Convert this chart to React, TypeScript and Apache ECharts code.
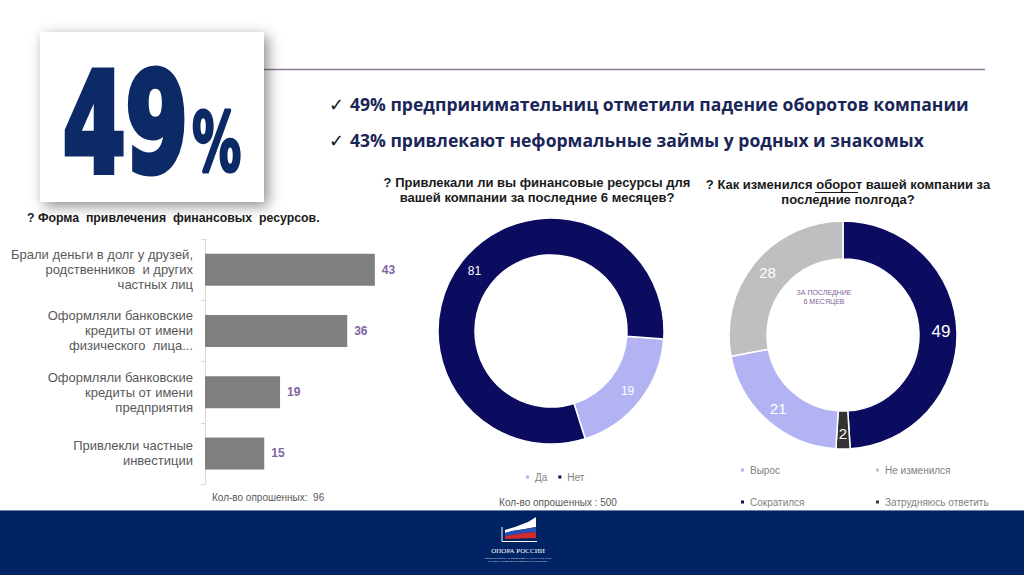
import React, { useEffect, useRef } from "react";
import * as echarts from "echarts";

const barCategories = [
  "Брали деньги в долг у друзей,\nродственников  и других\nчастных лиц",
  "Оформляли банковские\nкредиты от имени\nфизического  лица...",
  "Оформляли банковские\nкредиты от имени\nпредприятия",
  "Привлекли частные\nинвестиции",
];
const barValues = [43, 36, 19, 15];

const pie1Names = ["Да", "Нет"];
const pie1Values = [19, 81];
const pie1Colors = ["#b3b3f3", "#0b0b60"];

const pie2Names = ["Сократился", "Затрудняюсь ответить", "Вырос", "Не изменился"];
const pie2Values = [49, 2, 21, 28];
const pie2Colors = ["#0b0b60", "#333333", "#b3b3f3", "#bfbfbf"];

const bullets = [
  "49% предпринимательниц отметили падение оборотов компании",
  "43% привлекают неформальные займы у родных и знакомых",
];

const SANS = "Liberation Sans, Arial, sans-serif";
const NAVY = "#0c2a66";

export default function App() {
  const ref = useRef<HTMLDivElement>(null);
  useEffect(() => {
    if (!ref.current) return;
    const chart = echarts.init(ref.current, undefined, { renderer: "svg" });
    const legendText = { color: "#7f7f7f", fontSize: 10, fontFamily: SANS };
    const legendBase = {
      icon: "rect",
      itemWidth: 5,
      itemHeight: 5,
      itemGap: 9,
      padding: 0,
      selectedMode: false,
      textStyle: legendText,
    };
    const option: any = {
      animation: false,
      backgroundColor: "#ffffff",
      grid: { left: 205, top: 239, width: 197.5, height: 245, containLabel: false },
      xAxis: { type: "value", min: 0, max: 50, show: false },
      yAxis: {
        type: "category",
        data: barCategories,
        inverse: true,
        axisLine: { show: true, lineStyle: { color: "#d9d9d9", width: 1 } },
        axisTick: { show: true, length: 4, lineStyle: { color: "#d9d9d9" } },
        axisLabel: {
          color: "#595959",
          fontSize: 13,
          lineHeight: 15,
          fontFamily: SANS,
          margin: 12,
          align: "right",
        },
      },
      legend: [
        { ...legendBase, data: ["Да", "Нет"], left: 524, top: 472 },
        { ...legendBase, data: ["Вырос"], left: 739, top: 465 },
        { ...legendBase, data: ["Не изменился"], left: 874, top: 465 },
        { ...legendBase, data: ["Сократился"], left: 739, top: 497 },
        { ...legendBase, data: ["Затрудняюсь ответить"], left: 874, top: 497 },
      ],
      series: [
        {
          type: "bar",
          data: barValues,
          barWidth: 32,
          itemStyle: { color: "#7f7f7f" },
          label: {
            show: true,
            position: "right",
            distance: 7,
            color: "#8064a2",
            fontWeight: "bold",
            fontSize: 12,
            fontFamily: SANS,
          },
        },
        {
          type: "pie",
          center: [551, 331],
          radius: [76, 113],
          startAngle: -4,
          clockwise: true,
          label: {
            show: true,
            position: "inside",
            color: "#ffffff",
            fontSize: 12,
            fontFamily: SANS,
            formatter: "{c}",
          },
          labelLine: { show: false },
          itemStyle: { borderColor: "#ffffff", borderWidth: 1.5 },
          data: pie1Names.map((n, i) => ({
            name: n,
            value: pie1Values[i],
            itemStyle: { color: pie1Colors[i] },
          })),
        },
        {
          type: "pie",
          center: [843, 335],
          radius: [76, 114],
          startAngle: 90,
          clockwise: true,
          label: {
            show: true,
            position: "inside",
            color: "#ffffff",
            fontSize: 15,
            fontFamily: SANS,
            formatter: "{c}",
          },
          labelLine: { show: false },
          itemStyle: { borderColor: "#ffffff", borderWidth: 1.5 },
          data: pie2Names.map((n, i) => ({
            name: n,
            value: pie2Values[i],
            itemStyle: { color: pie2Colors[i] },
            label: pie2Values[i] === 49 ? { fontSize: 17 } : undefined,
          })),
        },
      ],
      graphic: [
        // big number box
        {
          type: "rect",
          shape: { x: 40, y: 32, width: 224, height: 170 },
          style: {
            fill: "#ffffff",
            shadowBlur: 14,
            shadowColor: "rgba(0,0,0,0.45)",
            shadowOffsetX: 4,
            shadowOffsetY: 4,
          },
          z: 1,
        },
        {
          type: "line",
          shape: { x1: 264, y1: 69.5, x2: 985, y2: 69.5 },
          style: { stroke: "#8e7b9e", lineWidth: 1.5 },
        },
        {
          type: "text",
          x: 63,
          y: 124,
          scaleX: 0.655,
          z: 3,
          style: {
            text: "49",
            x: 0,
            y: 0,
            fontSize: 137,
            fontWeight: "bold",
            fontFamily: "DejaVu Sans",
            fill: NAVY,
            stroke: NAVY,
            lineWidth: 7,
            align: "left",
            verticalAlign: "middle",
          },
        },
        {
          type: "text",
          x: 192,
          y: 143,
          scaleX: 0.6,
          z: 3,
          style: {
            text: "%",
            x: 0,
            y: 0,
            fontSize: 82,
            fontWeight: "bold",
            fontFamily: "DejaVu Sans",
            fill: NAVY,
            stroke: NAVY,
            lineWidth: 3,
            align: "left",
            verticalAlign: "middle",
          },
        },
        // bullets
        ...bullets.flatMap((b, i) => [
          {
            type: "text",
            x: 329,
            y: 104 + i * 36,
            style: {
              text: "✓",
              fontSize: 18,
              fontWeight: "bold",
              fontFamily: "DejaVu Sans",
              fill: "#111111",
              align: "left",
              verticalAlign: "middle",
            },
          },
          {
            type: "text",
            x: 350,
            y: 104 + i * 36,
            scaleX: 0.975,
            style: {
              text: b,
              fontSize: 18,
              fontWeight: "bold",
              fontFamily: "Open Sans, sans-serif",
              fill: "#1a2558",
              align: "left",
              verticalAlign: "middle",
            },
          },
        ]),
        // question titles
        {
          type: "text",
          x: 27,
          y: 218,
          style: {
            text: "? Форма  привлечения  финансовых  ресурсов.",
            fontSize: 12.3,
            fontWeight: "bold",
            fontFamily: SANS,
            fill: "#1a1a1a",
            align: "left",
            verticalAlign: "middle",
          },
        },
        {
          type: "text",
          x: 537,
          y: 190,
          style: {
            text: "? Привлекали ли вы финансовые ресурсы для\nвашей компании за последние 6 месяцев?",
            fontSize: 13,
            lineHeight: 15,
            fontWeight: "bold",
            fontFamily: SANS,
            fill: "#1a1a1a",
            align: "center",
            verticalAlign: "middle",
          },
        },
        {
          type: "text",
          x: 848,
          y: 192,
          style: {
            text: "? Как изменился оборот вашей компании за\nпоследние полгода?",
            fontSize: 13,
            lineHeight: 15,
            fontWeight: "bold",
            fontFamily: SANS,
            fill: "#1a1a1a",
            align: "center",
            verticalAlign: "middle",
          },
        },
        {
          type: "line",
          shape: { x1: 815, y1: 192.5, x2: 858, y2: 192.5 },
          style: { stroke: "#1a1a1a", lineWidth: 1 },
        },
        // pie2 center text
        {
          type: "text",
          x: 824,
          y: 297,
          style: {
            text: "ЗА ПОСЛЕДНИЕ\n6 МЕСЯЦЕВ",
            fontSize: 7,
            lineHeight: 9,
            fontFamily: SANS,
            fill: "#7e5fa0",
            align: "center",
            verticalAlign: "middle",
          },
        },
        // footnotes
        {
          type: "text",
          x: 212,
          y: 497,
          style: {
            text: "Кол-во опрошенных:  96",
            fontSize: 10,
            fontFamily: SANS,
            fill: "#595959",
            align: "left",
            verticalAlign: "middle",
          },
        },
        {
          type: "text",
          x: 558,
          y: 502,
          style: {
            text: "Кол-во опрошенных : 500",
            fontSize: 10,
            fontFamily: SANS,
            fill: "#595959",
            align: "center",
            verticalAlign: "middle",
          },
        },
        // footer
        {
          type: "rect",
          shape: { x: 0, y: 510, width: 1024, height: 65 },
          style: { fill: "#002463" },
        },
        {
          type: "line",
          shape: { x1: 0, y1: 510.5, x2: 1024, y2: 510.5 },
          style: { stroke: "#6d80a6", lineWidth: 1 },
        },
        {
          type: "polyline",
          shape: { points: [[502, 527], [502, 541.5], [537, 541.5]] },
          style: { stroke: "#ffffff", lineWidth: 1, fill: null },
        },
        {
          type: "polygon",
          shape: { points: [[505, 530], [515, 527], [528, 522], [536, 517], [536, 527], [525, 529], [512, 531], [505, 533]] },
          style: { fill: "#ffffff" },
        },
        {
          type: "polygon",
          shape: { points: [[505, 533], [512, 531], [525, 529], [536, 527], [536, 532], [525, 533], [512, 535], [505, 536]] },
          style: { fill: "#2b4fb5" },
        },
        {
          type: "polygon",
          shape: { points: [[505, 536], [512, 535], [525, 533], [536, 532], [536, 538], [505, 539]] },
          style: { fill: "#d02a2a" },
        },
        {
          type: "text",
          x: 518,
          y: 551,
          style: {
            text: "ОПОРА РОССИИ",
            fontSize: 7,
            fontFamily: "Liberation Serif, serif",
            fill: "#ffffff",
            align: "center",
            verticalAlign: "middle",
          },
        },
        {
          type: "text",
          x: 518,
          y: 560,
          style: {
            text: "ОБЩЕРОССИЙСКАЯ ОБЩЕСТВЕННАЯ ОРГАНИЗАЦИЯ\nМАЛОГО И СРЕДНЕГО ПРЕДПРИНИМАТЕЛЬСТВА",
            fontSize: 2.5,
            lineHeight: 3,
            fontFamily: SANS,
            fill: "#c8cfe0",
            align: "center",
            verticalAlign: "middle",
          },
        },
      ],
    };
    chart.setOption(option);
    return () => chart.dispose();
  }, []);
  return (
    <div
      ref={ref}
      style={{ position: "absolute", left: 0, top: 0, width: 1024, height: 575 }}
    />
  );
}
